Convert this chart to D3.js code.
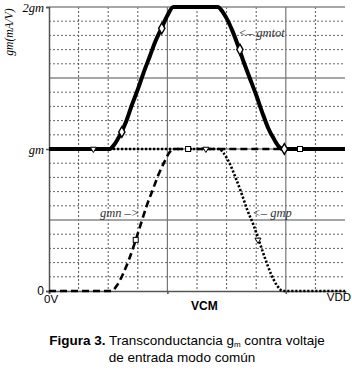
<html>
<head>
<script src="https://cdn.jsdelivr.net/npm/d3@7/dist/d3.min.js"></script>
<style>
  body { margin: 0; background: #fff; }
  svg { display: block; }
</style>
</head>
<body>
<svg id="chart"></svg>
<script>
const WIDTH = 352
const HEIGHT = 374
const MARGIN = {left: 49, top: 7, right: 7, bottom: 83}

// x runs in grid steps from 0V (0) to VDD (10), y in multiples of gm
const gmtot = [[0,1],[2.05,1],[2.2,1.03],[2.4,1.1],[2.6,1.19],[2.8,1.31],[3.0,1.42],[3.2,1.54],[3.4,1.65],
  [3.6,1.76],[3.8,1.85],[4.0,1.94],[4.2,2],[5.7,2],[5.85,1.97],[6.0,1.92],[6.2,1.83],[6.4,1.72],[6.6,1.6],
  [6.8,1.49],[7.0,1.38],[7.2,1.26],[7.4,1.15],[7.6,1.07],[7.8,1.01],[7.9,1],[10,1]]
const gmn = [[0,0],[2.1,0],[2.3,0.04],[2.5,0.12],[2.7,0.22],[2.9,0.34],[3.1,0.47],[3.3,0.6],[3.5,0.71],
  [3.7,0.82],[3.9,0.91],[4.05,0.97],[4.2,1],[10,1]]
const gmp = [[0,1],[5.75,1],[5.9,0.97],[6.1,0.9],[6.3,0.8],[6.5,0.69],[6.7,0.57],[6.9,0.47],[7.1,0.35],
  [7.3,0.23],[7.5,0.12],[7.7,0.04],[7.9,0],[10,0]]

const gmtotMarks = [[2.46,1.12],[3.81,1.85],[6.45,1.7],[7.95,1]]
const gmnMarks = [[2.93,0.36],[4.7,1],[8.48,1]]
const gmpMarks = [[1.5,1],[5.3,1],[7.06,0.36]]

const yTickValues = [0, 1, 2]
const yTickLabels = ["0", "gm", "2gm"]
const xTickValues = [0, 4, 8]
const xGrid = [1,2,3,5,6,7,9]
const yMajor = [0.5, 1.5]
const yMinor = [0.1,0.2,0.3,0.4,0.6,0.7,0.8,0.9,1.1,1.2,1.3,1.4,1.6,1.7,1.8,1.9]

const svg = d3.select("#chart").attr("width", WIDTH).attr("height", HEIGHT)
const chartW = WIDTH - MARGIN.left - MARGIN.right
const chartH = HEIGHT - MARGIN.top - MARGIN.bottom

let x = d3.scaleLinear().domain([0, 10]).range([0, chartW])
let y = d3.scaleLinear().domain([0, 2]).range([chartH, 0])

let g = svg.append("g").attr("transform", `translate(${MARGIN.left},${MARGIN.top})`)

// grid
g.selectAll(".hminor").data(yMinor).enter().append("line")
  .attr("x1", 0).attr("x2", chartW).attr("y1", d => y(d)).attr("y2", d => y(d))
  .attr("stroke", "#666").attr("stroke-width", 1).attr("stroke-dasharray", "2,2")
g.selectAll(".vminor").data(xGrid).enter().append("line")
  .attr("x1", d => x(d)).attr("x2", d => x(d)).attr("y1", 0).attr("y2", chartH)
  .attr("stroke", "#555").attr("stroke-width", 1).attr("stroke-dasharray", "2,2")
g.selectAll(".hmajor").data(yMajor.concat([1, 2])).enter().append("line")
  .attr("x1", 0).attr("x2", chartW).attr("y1", d => y(d)).attr("y2", d => y(d))
  .attr("stroke", "#888").attr("stroke-width", 1.5)
g.selectAll(".vmajor").data([4, 8]).enter().append("line")
  .attr("x1", d => x(d)).attr("x2", d => x(d)).attr("y1", 0).attr("y2", chartH)
  .attr("stroke", "#777").attr("stroke-width", 1.2)

// axes
let yAxis = d3.axisLeft(y).tickValues(yTickValues).tickSize(3)
  .tickFormat((d, i) => yTickLabels[i])
let yAxisGroup = g.append("g").call(yAxis)
yAxisGroup.select(".domain").attr("stroke", "#555").attr("stroke-width", 1.5)
yAxisGroup.selectAll(".tick line").attr("stroke", "#555").attr("stroke-width", 1.5)
yAxisGroup.selectAll(".tick text")
  .attr("x", -5)
  .style("font-family", (d) => d == 0 ? "Liberation Sans" : "Liberation Serif")
  .style("font-style", (d) => d == 0 ? "normal" : "italic")
  .style("font-size", (d) => d == 0 ? "12px" : "12.5px").attr("fill", "#000")

let xAxis = d3.axisBottom(x).tickValues(xTickValues).tickSize(3).tickFormat("")
let xAxisGroup = g.append("g").attr("transform", `translate(0,${chartH})`).call(xAxis)
xAxisGroup.select(".domain").attr("stroke", "#555").attr("stroke-width", 1.5)
xAxisGroup.selectAll(".tick line").attr("stroke", "#555").attr("stroke-width", 1.5)

// curves
let line = d3.line().x(d => x(d[0])).y(d => y(d[1])).curve(d3.curveMonotoneX)

g.append("path").datum(gmn).attr("d", line).attr("fill", "none")
  .attr("stroke", "#000").attr("stroke-width", 2.6).attr("stroke-dasharray", "7,4")
g.append("path").datum(gmp).attr("d", line).attr("fill", "none")
  .attr("stroke", "#000").attr("stroke-width", 2.6).attr("stroke-dasharray", "2.2,1.8")
g.append("path").datum(gmtot).attr("d", line).attr("fill", "none")
  .attr("stroke", "#000").attr("stroke-width", 4)

// markers
g.selectAll(".dia").data(gmtotMarks).enter().append("path")
  .attr("d", d3.symbol(d3.symbolDiamond, 34))
  .attr("transform", d => `translate(${x(d[0])},${y(d[1])})`)
  .attr("fill", "#fff").attr("stroke", "#000").attr("stroke-width", 1.4)
g.selectAll(".sq").data(gmnMarks).enter().append("rect")
  .attr("x", d => x(d[0]) - 2.5).attr("y", d => y(d[1]) - 2.5)
  .attr("width", 5).attr("height", 5)
  .attr("fill", "#fff").attr("stroke", "#000").attr("stroke-width", 1)
g.selectAll(".tri").data(gmpMarks).enter().append("path")
  .attr("d", d3.symbol(d3.symbolTriangle, 16))
  .attr("transform", d => `translate(${x(d[0])},${y(d[1])}) rotate(180)`)
  .attr("fill", "#fff").attr("stroke", "#000").attr("stroke-width", 1)

// series labels
const serif = "Liberation Serif"
g.append("text").attr("x", x(6.4)).attr("y", y(1.79)).text("<\u2013 gmtot")
  .style("font-family", serif).style("font-style", "italic").style("font-size", "12.5px").attr("fill", "#333")
g.append("text").attr("x", x(3.05)).attr("y", y(0.52)).attr("text-anchor", "end").text("gmn \u2013>")
  .style("font-family", serif).style("font-style", "italic").style("font-size", "12.5px").attr("fill", "#333")
g.append("text").attr("x", x(6.87)).attr("y", y(0.52)).text("<\u2013 gmp")
  .style("font-family", serif).style("font-style", "italic").style("font-size", "12.5px").attr("fill", "#333")

// axis titles
svg.append("text").attr("transform", `translate(13,${MARGIN.top + 25}) rotate(-90)`)
  .attr("text-anchor", "middle").text("gm(mA/V)")
  .style("font-family", serif).style("font-style", "italic").style("font-size", "11.5px")
g.append("text").attr("x", x(0) - 5).attr("y", chartH + 12).text("0V")
  .style("font-family", "Liberation Sans").style("font-size", "11.5px")
g.append("text").attr("x", x(10) + 6).attr("y", chartH + 10).attr("text-anchor", "end").text("VDD")
  .style("font-family", "Liberation Sans").style("font-size", "11.5px")
g.append("text").attr("x", x(5.25)).attr("y", chartH + 19).attr("text-anchor", "middle").text("VCM")
  .style("font-family", "Liberation Sans").style("font-weight", "bold").style("font-size", "12px")

// caption
let cap = svg.append("text").attr("x", 187).attr("y", 345).attr("text-anchor", "middle")
  .style("font-family", "Liberation Sans").style("font-size", "13.5px")
cap.append("tspan").style("font-weight", "bold").text("Figura 3.")
cap.append("tspan").text(" Transconductancia g")
cap.append("tspan").attr("dy", 2).style("font-size", "8px").text("m")
cap.append("tspan").attr("dy", -2).text(" contra voltaje")
svg.append("text").attr("x", 182).attr("y", 362).attr("text-anchor", "middle")
  .style("font-family", "Liberation Sans").style("font-size", "13.5px").text("de entrada modo común")
</script>
</body>
</html>
